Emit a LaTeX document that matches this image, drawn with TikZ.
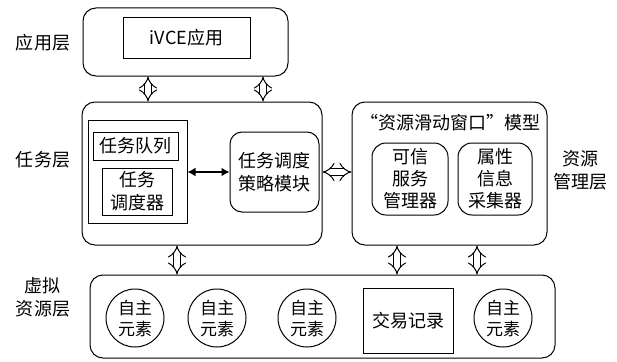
\documentclass[tikz,border=0pt]{standalone}
\usepackage{fontspec}
\setmainfont{Noto Sans CJK SC}
\usetikzlibrary{arrows.meta}
\begin{document}
\begin{tikzpicture}[x=1pt,y=-1pt,
  font=\fontsize{18}{23}\selectfont,
  every node/.style={inner sep=0pt, align=center},
  rbox/.style={draw, line width=1pt, rounded corners=13pt},
  sbox/.style={draw, line width=1pt},
  cbox/.style={draw, line width=1pt, circle, minimum size=58pt},
  harrow/.style={double, double distance=5.5pt, line width=1pt, {Implies[scale=1.45]}-{Implies[scale=1.45]}},
  farrow/.style={line width=1.6pt, {Latex[length=8pt,width=9pt]}-{Latex[length=8pt,width=9pt]}}]
\useasboundingbox (0,0) rectangle (617,361);
% application layer
\node[rbox, minimum width=205pt, minimum height=68pt] (app) at (185.5,42) {};
\node[sbox, minimum width=127pt, minimum height=40pt] (ivce) at (186.5,38) {iVCE应用};
\node (lapp) at (43,43) {应用层};
% task layer
\node[rbox, minimum width=240pt, minimum height=143pt] (task) at (202,173.5) {};
\node[sbox, minimum width=99pt, minimum height=103pt] (inner) at (137.5,171.5) {};
\node[sbox, minimum width=85pt, minimum height=28pt] (queue) at (135.5,146) {任务队列};
\node[sbox, minimum width=70pt, minimum height=47pt] (sched) at (137,191.5) {任务\\调度器};
\node[rbox, rounded corners=12pt, minimum width=89pt, minimum height=80pt] (strat) at (274.5,172) {任务调度\\策略模块};
\node (ltask) at (43,160) {任务层};
% resource management layer
\node[rbox, minimum width=195pt, minimum height=143pt] (res) at (449.5,173.5) {};
\node (rtitle) at (450,123) {“资源滑动窗口”模型};
\node[rbox, rounded corners=14pt, minimum width=76pt, minimum height=72pt, font=\fontsize{18}{22}\selectfont] (trust) at (410,179) {可信\\服务\\管理器};
\node[rbox, rounded corners=14pt, minimum width=74pt, minimum height=72pt, font=\fontsize{18}{22}\selectfont] (attr) at (495,179) {属性\\信息\\采集器};
\node (lres) at (580,170) {资源\\管理层};
% virtual resource layer
\node[rbox, minimum width=465pt, minimum height=83pt] (virt) at (322.5,316.5) {};
\node[cbox, font=\fontsize{17}{21}\selectfont] (e1) at (135,318) {自主\\元素};
\node[cbox, font=\fontsize{17}{21}\selectfont] (e2) at (217,318) {自主\\元素};
\node[cbox, font=\fontsize{17}{21}\selectfont] (e3) at (307,318) {自主\\元素};
\node[sbox, minimum width=90pt, minimum height=65pt] (trans) at (408,320.5) {交易记录};
\node[cbox, font=\fontsize{17}{21}\selectfont] (e4) at (503,318) {自主\\元素};
\node (lvirt) at (43,297) {虚拟\\资源层};
% connectors
\draw[harrow] (app.south -| 148,0) -- (task.north -| 148,0);
\draw[harrow] (app.south -| 263,0) -- (task.north -| 263,0);
\draw[farrow] (inner.east |- 0,172) -- (strat.west |- 0,172);
\draw[harrow] (task.east |- 0,172) -- (res.west |- 0,172);
\draw[harrow] (task.south -| 177,0) -- (virt.north -| 177,0);
\draw[harrow] (res.south -| 397,0) -- (virt.north -| 397,0);
\draw[harrow] (res.south -| 477,0) -- (virt.north -| 477,0);
\end{tikzpicture}
\end{document}
